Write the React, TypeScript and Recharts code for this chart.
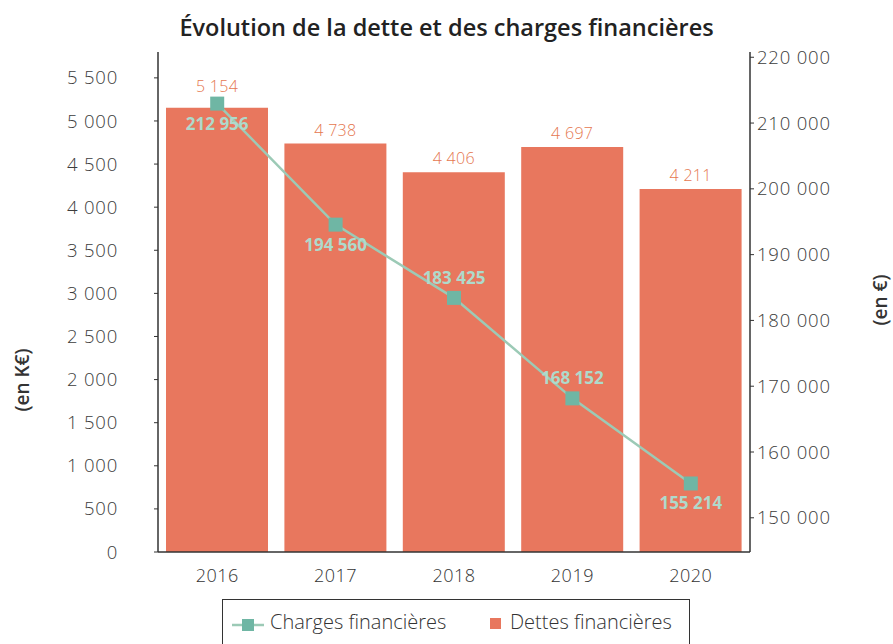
import { Bar, ComposedChart, LabelList, Line, XAxis, YAxis } from 'recharts';

// values
const years = ['2016', '2017', '2018', '2019', '2020'];
const dettesFinancieres = [5154, 4738, 4406, 4697, 4211]; // K€
const chargesFinancieres = [212956, 194560, 183425, 168152, 155214]; // €
const leftTicks = [0, 500, 1000, 1500, 2000, 2500, 3000, 3500, 4000, 4500, 5000, 5500];
const rightTicks = [150000, 160000, 170000, 180000, 190000, 200000, 210000, 220000];

const data = years.map((year, i) => ({
  year,
  dettes: dettesFinancieres[i],
  charges: chargesFinancieres[i],
}));

const BAR_COLOR = '#E8775E';
const BAR_LABEL = '#E5774F';
const LINE_COLOR = '#9CCAB6';
const MARKER_COLOR = '#6FB6A4';
const LINE_LABEL = '#AEDACB';
const FONT = '"Open Sans", Lato, sans-serif';

const fmt = (v: number) => String(v).replace(/\B(?=(\d{3})+(?!\d))/g, ' ');

const SquareDot = (props: any) => {
  const { cx, cy } = props;
  if (cx == null || cy == null) return null;
  return <rect x={cx - 7} y={cy - 7} width={14} height={14} fill={MARKER_COLOR} />;
};

const DetteLabel = (props: any) => {
  const { x, y, width, value, index } = props;
  // first label is lifted clear of the line marker
  const gap = index === 0 ? 16 : 8;
  return (
    <text
      x={x + width / 2}
      y={y - gap}
      textAnchor="middle"
      fill={BAR_LABEL}
      fontSize={16}
      fontWeight={300}
      letterSpacing={0.3}
    >
      {fmt(value)}
    </text>
  );
};

const ChargeLabel = (props: any) => {
  const { x, y, value, index } = props;
  // 2018 and 2019 labels sit above their marker, the others below
  const above = index === 2 || index === 3;
  return (
    <text
      x={x}
      y={above ? y - 14 : y + 26}
      textAnchor="middle"
      fill={LINE_LABEL}
      fontSize={17}
      fontWeight={700}
    >
      {fmt(value)}
    </text>
  );
};

const axisText = { fill: '#3c3c3c', fontSize: 18.5, fontWeight: 300, letterSpacing: 0.8 };

export default function App() {
  return (
    <div
      style={{
        position: 'absolute',
        left: 0,
        top: 0,
        width: 893,
        height: 644,
        background: '#fff',
        fontFamily: FONT,
      }}
    >
      <div
        style={{
          position: 'absolute',
          top: 11,
          left: 0,
          width: 893,
          textAlign: 'center',
          fontSize: 23.5,
          fontWeight: 600,
          color: '#222',
          paddingRight: 2,
        }}
      >
        Évolution de la dette et des charges financières
      </div>
      <div
        style={{
          position: 'absolute',
          left: 22,
          top: 380,
          transform: 'translate(-50%, -50%) rotate(-90deg)',
          fontSize: 19,
          fontWeight: 600,
          color: '#333',
          whiteSpace: 'nowrap',
        }}
      >
        (en K€)
      </div>
      <div
        style={{
          position: 'absolute',
          left: 880,
          top: 300,
          transform: 'translate(-50%, -50%) rotate(-90deg)',
          fontSize: 19,
          fontWeight: 600,
          color: '#333',
          whiteSpace: 'nowrap',
        }}
      >
        (en €)
      </div>

      <ComposedChart
        width={893}
        height={644}
        data={data}
        margin={{ top: 52, right: 43, left: 40, bottom: 52 }}
      >
        <XAxis
          dataKey="year"
          height={40}
          tickLine={false}
          tickSize={0}
          tickMargin={17}
          axisLine={{ stroke: '#333', strokeWidth: 1.5 }}
          tick={{ fill: '#333', fontSize: 18, fontWeight: 300, letterSpacing: 0.5 }}
        />
        <YAxis
          yAxisId="left"
          width={118}
          domain={[0, 5800]}
          ticks={leftTicks}
          tickFormatter={fmt}
          tickSize={4}
          tickMargin={36}
          axisLine={{ stroke: '#333', strokeWidth: 1.5 }}
          tickLine={{ stroke: '#333' }}
          tick={axisText}
        />
        <YAxis
          yAxisId="right"
          orientation="right"
          width={100}
          domain={[144800, 220800]}
          ticks={rightTicks}
          tickFormatter={fmt}
          tickSize={4}
          tickMargin={3}
          axisLine={{ stroke: '#333', strokeWidth: 1.5 }}
          tickLine={{ stroke: '#333' }}
          tick={axisText}
        />
        <Bar yAxisId="left" dataKey="dettes" fill={BAR_COLOR} barSize={102} isAnimationActive={false}>
          <LabelList dataKey="dettes" content={<DetteLabel />} />
        </Bar>
        <Line
          yAxisId="right"
          dataKey="charges"
          type="linear"
          stroke={LINE_COLOR}
          strokeWidth={2.5}
          dot={<SquareDot />}
          activeDot={false}
          isAnimationActive={false}
        >
          <LabelList dataKey="charges" content={<ChargeLabel />} />
        </Line>
      </ComposedChart>

      <div
        style={{
          position: 'absolute',
          left: 222,
          top: 599,
          width: 468,
          height: 50,
          border: '1.5px solid #333',
          boxSizing: 'border-box',
          fontSize: 20,
          fontWeight: 300,
          color: '#333',
        }}
      >
        <svg width={32} height={20} style={{ position: 'absolute', left: 9, top: 15 }}>
          <line x1={0} y1={10} x2={32} y2={10} stroke={LINE_COLOR} strokeWidth={2.5} />
          <rect x={10} y={4} width={12} height={12} fill={MARKER_COLOR} />
        </svg>
        <span style={{ position: 'absolute', left: 47, top: 8, whiteSpace: 'nowrap' }}>
          Charges financières
        </span>
        <svg width={12} height={12} style={{ position: 'absolute', left: 267, top: 18 }}>
          <rect x={0} y={0} width={11} height={11} fill={BAR_COLOR} />
        </svg>
        <span style={{ position: 'absolute', left: 287, top: 8, whiteSpace: 'nowrap' }}>
          Dettes financières
        </span>
      </div>
    </div>
  );
}
